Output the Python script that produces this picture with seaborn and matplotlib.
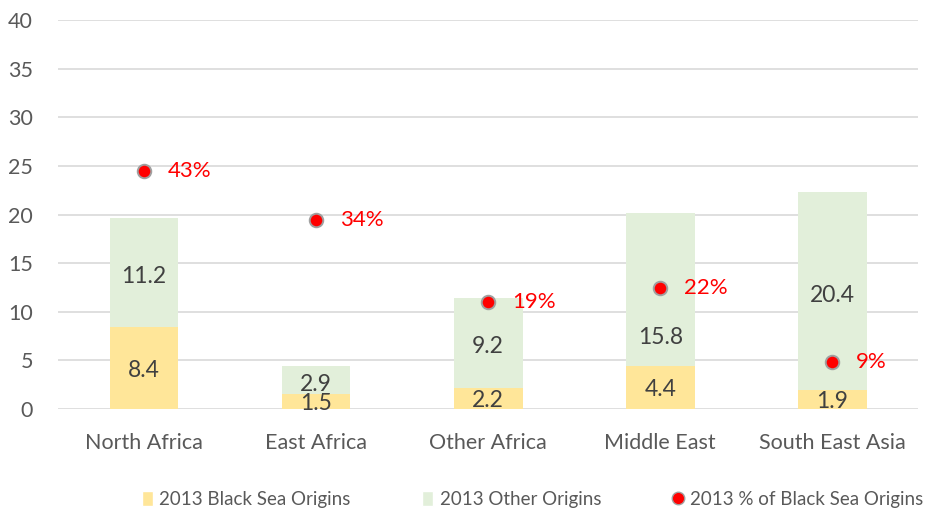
import matplotlib
matplotlib.use("Agg")
import matplotlib.pyplot as plt
import numpy as np
import pandas as pd
import seaborn as sns
from matplotlib.lines import Line2D
from matplotlib.patches import Patch

regions = ["North Africa", "East Africa", "Other Africa", "Middle East", "South East Asia"]
black_sea = [8.4, 1.5, 2.2, 4.4, 1.9]
other = [11.2, 2.9, 9.2, 15.8, 20.4]
share = [0.428, 0.341, 0.193, 0.218, 0.085]
share_labels = ["43%", "34%", "19%", "22%", "9%"]
# the "other" label of Middle East sits lower so it clears the dot
other_label_shift = [0, 0, 0, -4.6, 0]

yellow = "#FFE699"
green = "#E2EFDA"
text_col = "#595959"

sns.set_style("white")
plt.rcParams["font.family"] = ["Lato", "DejaVu Sans"]

df = pd.DataFrame({"region": regions, "black_sea": black_sea, "other": other})
df["total"] = df["black_sea"] + df["other"]

fig = plt.figure(figsize=(9.28, 5.17), dpi=100)
ax = fig.add_axes([0.0625, 0.209, 0.927, 0.752])

sns.barplot(data=df, x="region", y="total", color=green, width=0.4,
            saturation=1, ax=ax, zorder=2, linewidth=0)
sns.barplot(data=df, x="region", y="black_sea", color=yellow, width=0.4,
            saturation=1, ax=ax, zorder=3, linewidth=0)

for i, (b, o) in enumerate(zip(black_sea, other)):
    ax.text(i, b / 2 - 0.2, f"{b:.1f}", ha="center", va="center", fontsize=16.5,
            color="#404040", zorder=5)
    ax.text(i, b + o / 2 - 0.4 + other_label_shift[i], f"{o:.1f}", ha="center",
            va="center", fontsize=16.5, color="#404040", zorder=5)

ax.set_ylim(0, 40)
ax.set_yticks(range(0, 41, 5))
ax.set_xlim(-0.5, 4.5)
ax.yaxis.grid(True, color="#D9D9D9", linewidth=1.2, zorder=0)
ax.set_axisbelow(True)
for s in ax.spines.values():
    s.set_visible(False)
ax.set_xlabel("")
ax.set_ylabel("")
ax.tick_params(axis="both", length=0, labelsize=15.5, labelcolor=text_col)
ax.tick_params(axis="x", pad=17)
ax.tick_params(axis="y", pad=18)

ax2 = ax.twinx()
sns.scatterplot(x=np.arange(len(regions)), y=share, ax=ax2, color="red", s=95,
                edgecolor="#A0A0A0", linewidth=1.4, zorder=6, legend=False)
for i, (p, lab) in enumerate(zip(share, share_labels)):
    ax2.annotate(lab, (i, p), xytext=(17, 0), textcoords="offset points",
                 ha="left", va="center", fontsize=16, color="red")
ax2.set_ylim(0, 0.70)
ax2.set_yticks([])
ax2.set_ylabel("")
for s in ax2.spines.values():
    s.set_visible(False)

handles = [
    Patch(facecolor=yellow, label="2013 Black Sea Origins"),
    Patch(facecolor=green, label="2013 Other Origins"),
    Line2D([], [], marker="o", linestyle="none", markerfacecolor="red",
           markeredgecolor="#A0A0A0", markersize=9,
           label="2013 % of Black Sea Origins"),
]
fig.legend(handles=handles, loc="center", bbox_to_anchor=(0.574, 0.034), ncol=3,
           frameon=False, fontsize=13.5, handlelength=0.6, handleheight=0.9,
           handletextpad=0.35, columnspacing=3.8, labelcolor=text_col)

fig.savefig("out.png", dpi=100)
